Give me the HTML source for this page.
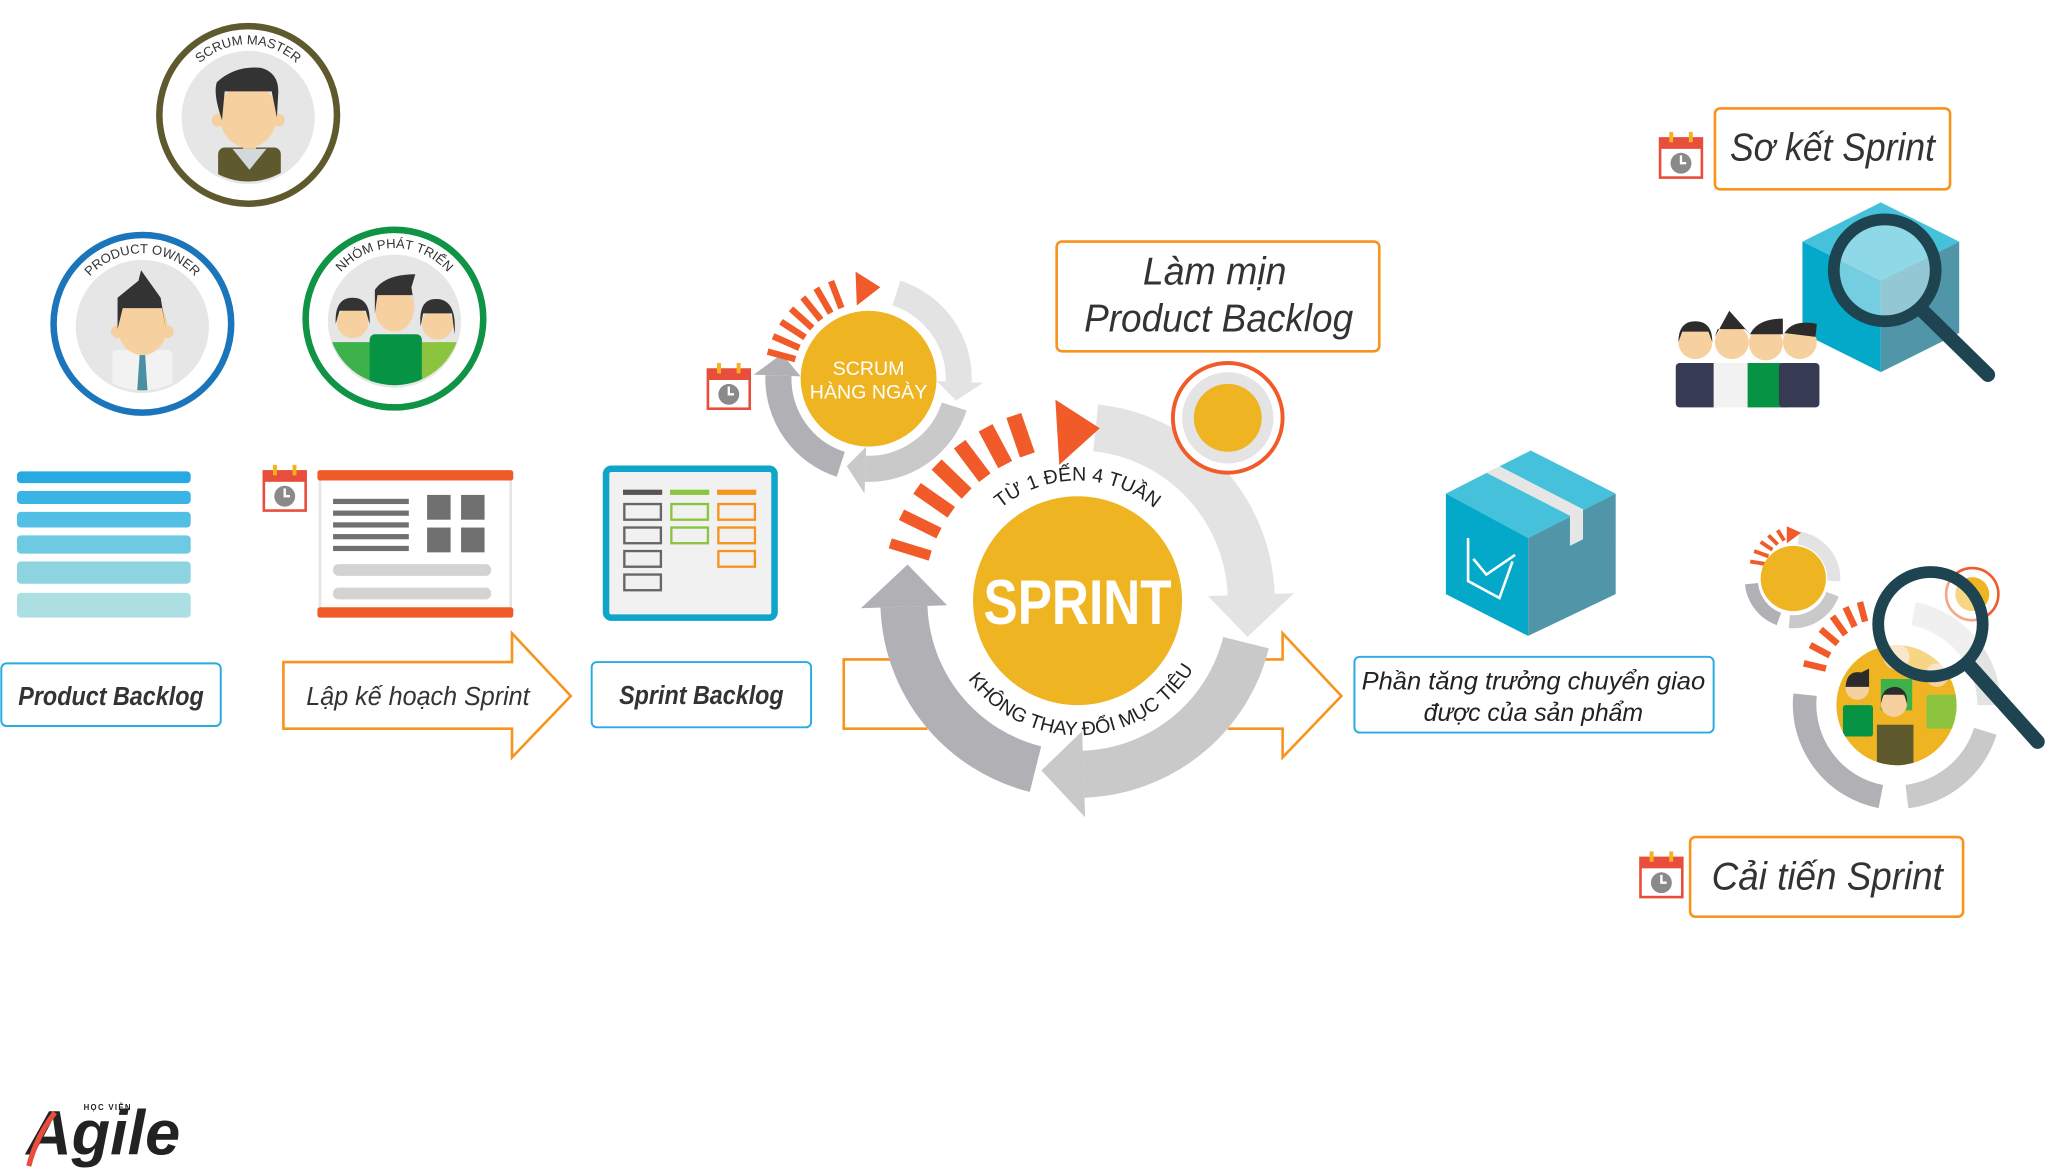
<!DOCTYPE html>
<html><head><meta charset="utf-8"><style>
html,body{margin:0;padding:0;background:#fff;}
svg{display:block;}
text{font-family:"Liberation Sans",sans-serif;}
</style></head><body>
<svg width="2048" height="1170" viewBox="0 0 1568 896" preserveAspectRatio="none" xmlns="http://www.w3.org/2000/svg">
<defs>
<clipPath id="c1"><circle cx="190" cy="88" r="51"/></clipPath>
<clipPath id="c2"><circle cx="109" cy="248" r="51"/></clipPath>
<clipPath id="c3"><circle cx="302" cy="244" r="51"/></clipPath>
<clipPath id="c4"><circle cx="1452" cy="540" r="46"/></clipPath>
<path id="tp1" d="M143.2,61 A54,54 0 0 1 236.8,61"/>
<path id="tp2" d="M62.2,221 A54,54 0 0 1 155.8,221"/>
<path id="tp3" d="M255.2,217 A54,54 0 0 1 348.8,217"/>
<path id="tpTop" d="M754.5,400.9 A92,92 0 0 1 895.5,400.9"/>
<path id="tpBot" d="M731.6,503.5 A103,103 0 0 0 921.8,495.2"/>
<g id="cal">
<rect x="1" y="5" width="32" height="30" fill="#fff" stroke="#e94e3d" stroke-width="2"/>
<rect x="1" y="5" width="32" height="8" fill="#e94e3d"/>
<rect x="8" y="0" width="3" height="8" fill="#f6b21a"/><rect x="23" y="0" width="3" height="8" fill="#f6b21a"/>
<circle cx="17" cy="24" r="8" fill="#8a8a8a"/>
<path d="M17,18 V24 H21" stroke="#fff" stroke-width="1.8" fill="none"/>
</g>
</defs>

<!-- Scrum master -->
<circle cx="190" cy="88" r="68" fill="#fff" stroke="#5e5a2e" stroke-width="5"/>
<circle cx="190" cy="90" r="51" fill="#e6e6e6"/>
<g clip-path="url(#c1)">
<rect x="167" y="113" width="48" height="40" rx="5" fill="#5e5a2e"/>
<path d="M178,114 L191,130 L204,114 Z" fill="#d5d8da"/>
<rect x="186" y="102" width="10" height="12" fill="#f6d19f"/>
<circle cx="167" cy="92" r="5" fill="#f6d19f"/><circle cx="213" cy="92" r="5" fill="#f6d19f"/>
<ellipse cx="190" cy="88" rx="22" ry="25" fill="#f6d19f"/>
<path d="M166,63 Q180,50 200,52 Q214,56 213,72 L212,90 L208,70 L172,70 L170,92 Q163,72 166,63 Z" fill="#333"/>
</g>
<text font-size="10" fill="#333"><textPath href="#tp1" startOffset="50%" text-anchor="middle">SCRUM MASTER</textPath></text>

<!-- Product owner -->
<circle cx="109" cy="248" r="68" fill="#fff" stroke="#1b75bb" stroke-width="5"/>
<circle cx="109" cy="250" r="51" fill="#e6e6e6"/>
<g clip-path="url(#c2)">
<rect x="86" y="268" width="46" height="45" rx="4" fill="#f2f2f2"/>
<path d="M107,270 L111,270 L113,300 L109,306 L105,300 Z" fill="#4a8fa2"/>
<rect x="104" y="258" width="10" height="12" fill="#f6d19f"/>
<circle cx="90" cy="254" r="5" fill="#f6d19f"/><circle cx="128" cy="254" r="5" fill="#f6d19f"/>
<ellipse cx="109" cy="250" rx="19" ry="22" fill="#f6d19f"/>
<path d="M90,252 L90,228 L106,215 L108,207 L123,228 L127,252 L124,236 L94,236 Z" fill="#333"/>
</g>
<text font-size="10" fill="#333"><textPath href="#tp2" startOffset="50%" text-anchor="middle">PRODUCT OWNER</textPath></text>

<!-- Nhóm phát triển -->
<circle cx="302" cy="244" r="68" fill="#fff" stroke="#0f9345" stroke-width="5"/>
<circle cx="302" cy="246" r="51" fill="#e6e6e6"/>
<g clip-path="url(#c3)">
<rect x="249" y="262" width="40" height="45" rx="6" fill="#3db14a"/>
<rect x="315" y="262" width="40" height="45" rx="6" fill="#8cc43f"/>
<circle cx="270" cy="247" r="12" fill="#f6d19f"/><path d="M257,248 Q256,228 270,228 Q284,228 283,248 L280,238 L260,238 Z" fill="#333"/>
<circle cx="335" cy="248" r="12" fill="#f6d19f"/><path d="M322,250 Q320,228 335,229 Q350,230 348,256 L346,240 L324,240 Z" fill="#333"/>
<rect x="283" y="256" width="40" height="50" rx="4" fill="#079344"/>
<ellipse cx="302" cy="236" rx="15" ry="18" fill="#f6d19f"/>
<path d="M287,240 L287,222 Q295,210 318,210 L315,220 L318,240 L316,226 L289,226 Z" fill="#333"/>
</g>
<text font-size="10" fill="#333"><textPath href="#tp3" startOffset="50%" text-anchor="middle">NHÓM PHÁT TRIỂN</textPath></text>

<!-- Product backlog bars -->
<rect x="13" y="361" width="133" height="9" rx="3" fill="#27a9e1"/>
<rect x="13" y="376" width="133" height="10" rx="3" fill="#3ab4e4"/>
<rect x="13" y="392" width="133" height="12" rx="3" fill="#52bfe4"/>
<rect x="13" y="410" width="133" height="14" rx="3" fill="#6ec9e2"/>
<rect x="13" y="430" width="133" height="17" rx="3" fill="#8dd3e0"/>
<rect x="13" y="454" width="133" height="19" rx="3" fill="#acdfe1"/>
<rect x="1" y="508" width="168" height="48" rx="4" fill="#fff" stroke="#29abe2" stroke-width="1.5"/>
<text x="85" y="540" font-size="20" font-weight="bold" font-style="italic" fill="#333" text-anchor="middle" textLength="142" lengthAdjust="spacingAndGlyphs">Product Backlog</text>

<!-- Sprint planning document -->
<use href="#cal" x="201" y="356"/>
<rect x="245" y="362" width="146" height="108" fill="#fff" stroke="#e5e5e5" stroke-width="2"/>
<rect x="243" y="360" width="150" height="8" rx="2" fill="#f15a29"/>
<rect x="243" y="465" width="150" height="8" rx="2" fill="#f15a29"/>
<g fill="#707070">
<rect x="255" y="382" width="58" height="4"/><rect x="255" y="391" width="58" height="4"/><rect x="255" y="400" width="58" height="4"/><rect x="255" y="409" width="58" height="4"/><rect x="255" y="418" width="58" height="4"/>
<rect x="327" y="379" width="18" height="19"/><rect x="353" y="379" width="18" height="19"/><rect x="327" y="404" width="18" height="19"/><rect x="353" y="404" width="18" height="19"/>
</g>
<rect x="255" y="432" width="121" height="9" rx="4" fill="#d3d3d3"/>
<rect x="255" y="450" width="121" height="9" rx="4" fill="#d3d3d3"/>
<path d="M217,507 L392,507 L392,485 L437,533 L392,580 L392,558 L217,558 Z" fill="#fff" stroke="#f7941d" stroke-width="2"/>
<text x="320" y="540" font-size="20" font-style="italic" fill="#333" text-anchor="middle" textLength="171" lengthAdjust="spacingAndGlyphs">Lập kế hoạch Sprint</text>

<!-- Sprint backlog board -->
<rect x="464" y="359" width="129" height="114" rx="4" fill="#f1f1f1" stroke="#0fa5c8" stroke-width="5"/>
<rect x="477" y="375" width="30" height="4" fill="#555"/><rect x="513" y="375" width="30" height="4" fill="#8cc43f"/><rect x="549" y="375" width="30" height="4" fill="#f7941d"/>
<g fill="none" stroke-width="1.8">
<g stroke="#666"><rect x="478" y="386" width="28" height="12"/><rect x="478" y="404" width="28" height="12"/><rect x="478" y="422" width="28" height="12"/><rect x="478" y="440" width="28" height="12"/></g>
<g stroke="#8cc43f"><rect x="514" y="386" width="28" height="12"/><rect x="514" y="404" width="28" height="12"/></g>
<g stroke="#f7941d"><rect x="550" y="386" width="28" height="12"/><rect x="550" y="404" width="28" height="12"/><rect x="550" y="422" width="28" height="12"/></g>
</g>
<rect x="453" y="507" width="168" height="50" rx="4" fill="#fff" stroke="#29abe2" stroke-width="1.5"/>
<text x="537" y="539" font-size="20" font-weight="bold" font-style="italic" fill="#333" text-anchor="middle" textLength="126" lengthAdjust="spacingAndGlyphs">Sprint Backlog</text>

<!-- Scrum hàng ngày -->
<use href="#cal" x="541" y="278"/>
<g fill="none" stroke-width="20">
<path d="M686.3,224.4 A69,69 0 0 1 734,292.4" stroke="#e3e3e4"/>
<path d="M730.6,311.3 A69,69 0 0 1 662.6,359" stroke="#c9c9ca"/>
<path d="M643.7,355.6 A69,69 0 0 1 596,287.6" stroke="#b1b0b4"/>
</g>
<polygon points="717,291.8 752.9,293.1 732,306.7" fill="#e3e3e4"/>
<polygon points="663.2,342 661.9,377.9 648.3,357" fill="#c9c9ca"/>
<polygon points="613,288.2 577.1,286.9 598.7,271" fill="#b1b0b4"/>
<g stroke="#f15a29" stroke-width="5">
<line x1="609" y1="275" x2="587.7" y2="269.3"/><line x1="612" y1="266.4" x2="591.9" y2="257.5"/><line x1="616.4" y1="258.4" x2="597.9" y2="246.4"/><line x1="621.9" y1="251.2" x2="605.6" y2="236.5"/><line x1="628.5" y1="244.9" x2="614.7" y2="227.8"/><line x1="636" y1="239.8" x2="625" y2="220.7"/><line x1="644.2" y1="235.9" x2="636.3" y2="215.3"/>
</g>
<polygon points="655,208 656,234 674,220" fill="#f15a29"/>
<circle cx="665" cy="290" r="52" fill="#eeb422"/>
<text x="665" y="287" font-size="15" fill="#fff" text-anchor="middle">SCRUM</text>
<text x="665" y="305" font-size="15" fill="#fff" text-anchor="middle">HÀNG NGÀY</text>

<!-- input/output arrows -->
<path d="M710,505 L646,505 L646,558 L710,558" fill="none" stroke="#f7941d" stroke-width="2"/>
<path d="M940,505 L982,505 L982,485 L1027,533 L982,580 L982,558 L940,558" fill="#fff" stroke="#f7941d" stroke-width="2"/>

<!-- Sprint ring -->
<g fill="none" stroke-width="36">
<path d="M838.9,327.7 A133,133 0 0 1 957.9,455.4" stroke="#e3e3e4"/>
<path d="M954,492.2 A133,133 0 0 1 829.6,592.9" stroke="#c9c9ca"/>
<path d="M792.8,589 A133,133 0 0 1 692.1,464.6" stroke="#b1b0b4"/>
</g>
<polygon points="924.9,456.5 990.9,454.2 955.1,487.7" fill="#e3e3e4"/>
<polygon points="828.5,559.9 830.8,625.9 797.3,590.1" fill="#c9c9ca"/>
<polygon points="725.1,463.5 659.1,465.8 694.9,432.3" fill="#b1b0b4"/>
<g stroke="#f15a29">
<line x1="712.2" y1="425.5" x2="681.6" y2="416.1" stroke-width="8"/>
<line x1="718.9" y1="408.3" x2="690.2" y2="394.2" stroke-width="9"/>
<line x1="728.3" y1="392.3" x2="702.1" y2="374" stroke-width="10"/>
<line x1="740.1" y1="378" x2="717.1" y2="355.8" stroke-width="11"/>
<line x1="754" y1="365.8" x2="734.7" y2="340.2" stroke-width="11"/>
<line x1="769.6" y1="355.8" x2="754.6" y2="327.6" stroke-width="12"/>
<line x1="786.6" y1="348.4" x2="776.2" y2="318.2" stroke-width="12"/>
</g>
<polygon points="808,306 811,356 842,328" fill="#f15a29"/>
<circle cx="825" cy="460" r="80" fill="#eeb422"/>
<text x="825" y="478" font-size="48" font-weight="bold" fill="#fff" text-anchor="middle" textLength="144" lengthAdjust="spacingAndGlyphs">SPRINT</text>
<text font-size="15" fill="#222"><textPath href="#tpTop" startOffset="50%" text-anchor="middle">TỪ 1 ĐẾN 4 TUẦN</textPath></text>
<text font-size="15" fill="#222"><textPath href="#tpBot" startOffset="50%" text-anchor="middle">KHÔNG THAY ĐỔI MỤC TIÊU</textPath></text>

<!-- small circle -->
<circle cx="940" cy="320" r="42" fill="#fff" stroke="#f15a29" stroke-width="3"/>
<circle cx="940" cy="320" r="35" fill="#e4e4e4"/>
<circle cx="940" cy="320" r="26" fill="#eeb422"/>

<!-- Làm mịn -->
<rect x="809" y="185" width="247" height="84" rx="4" fill="#fff" stroke="#f7941d" stroke-width="2"/>
<text x="930" y="218" font-size="30" font-style="italic" fill="#333" text-anchor="middle" textLength="110" lengthAdjust="spacingAndGlyphs">Làm mịn</text>
<text x="933" y="254" font-size="30" font-style="italic" fill="#333" text-anchor="middle" textLength="206" lengthAdjust="spacingAndGlyphs">Product Backlog</text>

<!-- center cube -->
<polygon points="1107,378 1172,345 1237,378 1170,412" fill="#45c1dc"/>
<polygon points="1107,378 1170,412 1170,487 1107,455" fill="#04a8c9"/>
<polygon points="1170,412 1237,378 1237,455 1170,487" fill="#5096a8"/>
<polygon points="1138,362 1148,357 1212,390 1212,413 1202,418 1202,395" fill="#e6e6e6"/>
<path d="M1124,412 L1124,445 L1148,458 L1158,430" fill="none" stroke="#fff" stroke-width="2"/>
<path d="M1128,428 L1138,440 L1160,425" fill="none" stroke="#fff" stroke-width="2"/>
<rect x="1037" y="503" width="275" height="58" rx="4" fill="#fff" stroke="#29abe2" stroke-width="1.5"/>
<text x="1174" y="528" font-size="19" font-style="italic" fill="#222" text-anchor="middle" textLength="263" lengthAdjust="spacingAndGlyphs">Phần tăng trưởng chuyển giao</text>
<text x="1174" y="552" font-size="19" font-style="italic" fill="#222" text-anchor="middle" textLength="168" lengthAdjust="spacingAndGlyphs">được của sản phẩm</text>

<!-- Sơ kết Sprint -->
<use href="#cal" x="1270" y="101"/>
<rect x="1313" y="83" width="180" height="62" rx="4" fill="#fff" stroke="#f7941d" stroke-width="2"/>
<text x="1403" y="123" font-size="30" font-style="italic" fill="#333" text-anchor="middle" textLength="157" lengthAdjust="spacingAndGlyphs">Sơ kết Sprint</text>
<polygon points="1380,185 1440,155 1500,185 1440,215" fill="#45c1dc"/>
<polygon points="1380,185 1440,215 1440,285 1380,255" fill="#04a8c9"/>
<polygon points="1440,215 1500,185 1500,255 1440,285" fill="#5096a8"/>
<circle cx="1443" cy="207" r="39" fill="#bfe7f0" fill-opacity="0.6" stroke="#1d4450" stroke-width="9"/>
<line x1="1472" y1="238" x2="1522" y2="287" stroke="#1d4450" stroke-width="11" stroke-linecap="round"/>
<!-- people group -->
<g>
<rect x="1283" y="278" width="33" height="34" rx="3" fill="#363a52"/>
<rect x="1312" y="278" width="30" height="34" fill="#f2f2f2"/>
<rect x="1338" y="278" width="30" height="34" fill="#079344"/>
<rect x="1362" y="278" width="31" height="34" rx="3" fill="#363a52"/>
<circle cx="1298" cy="262" r="13" fill="#f6d19f"/><path d="M1285,262 Q1285,246 1298,246 Q1311,246 1311,262 L1308,254 L1288,254 Z" fill="#2c2c2c"/>
<circle cx="1326" cy="262" r="13" fill="#f6d19f"/><path d="M1313,258 L1324,238 L1340,256 L1336,252 L1315,252 Z" fill="#2c2c2c"/>
<circle cx="1352" cy="263" r="13" fill="#f6d19f"/><path d="M1339,258 Q1344,244 1365,244 L1365,256 L1340,256 Z" fill="#2c2c2c"/>
<circle cx="1378" cy="262" r="13" fill="#f6d19f"/><path d="M1365,258 Q1370,244 1391,248 L1390,258 L1366,255 Z" fill="#2c2c2c"/>
</g>

<!-- bottom right cycle icons -->
<g fill="none" stroke-width="10">
<path d="M1377,412 A32,32 0 0 1 1404,445" stroke="#e3e3e4"/>
<path d="M1403,455 A32,32 0 0 1 1370,476" stroke="#c9c9ca"/>
<path d="M1362,474 A32,32 0 0 1 1341,447" stroke="#b1b0b4"/>
<path d="M1465,470 A72,72 0 0 1 1523,540" stroke="#e3e3e4" stroke-width="18"/>
<path d="M1520,560 A72,72 0 0 1 1460,610" stroke="#c9c9ca" stroke-width="18"/>
<path d="M1440,610 A72,72 0 0 1 1382,532" stroke="#b1b0b4" stroke-width="18"/>
</g>
<g stroke="#f15a29" stroke-width="3">
<line x1="1340" y1="430" x2="1352" y2="432"/><line x1="1343" y1="422" x2="1354" y2="426"/><line x1="1348" y1="415" x2="1357" y2="421"/><line x1="1354" y1="410" x2="1361" y2="417"/><line x1="1361" y1="406" x2="1366" y2="414"/>
</g>
<polygon points="1368,403 1368,416 1379,408" fill="#f15a29"/>
<circle cx="1373" cy="443" r="25" fill="#eeb422"/>
<g stroke="#f15a29" stroke-width="5">
<line x1="1381" y1="508" x2="1398" y2="512"/><line x1="1386" y1="494" x2="1401" y2="502"/><line x1="1394" y1="482" x2="1407" y2="493"/><line x1="1403" y1="472" x2="1413" y2="486"/><line x1="1413" y1="465" x2="1420" y2="480"/><line x1="1424" y1="461" x2="1428" y2="476"/>
</g>
<circle cx="1510" cy="455" r="20" fill="#fff" stroke="#f15a29" stroke-width="2"/>
<circle cx="1510" cy="455" r="13" fill="#eeb422"/>
<circle cx="1452" cy="540" r="46" fill="#eeb422"/>
<g clip-path="url(#c4)">
<rect x="1411" y="540" width="23" height="24" rx="2" fill="#079344"/>
<circle cx="1422" cy="527" r="9" fill="#f6d19f"/><path d="M1413,526 Q1414,513 1425,515 L1431,512 L1431,526 Z" fill="#2c2c2c"/>
<rect x="1440" y="520" width="24" height="24" fill="#3db14a"/>
<circle cx="1452" cy="503" r="10" fill="#f6d19f"/>
<rect x="1475" y="532" width="24" height="26" rx="2" fill="#8cc43f"/>
<circle cx="1483" cy="517" r="9" fill="#f6d19f"/>
<rect x="1437" y="555" width="28" height="40" fill="#5e5a2e"/>
<circle cx="1450" cy="539" r="10" fill="#f6d19f"/><path d="M1440,539 Q1440,526 1452,526 Q1461,528 1460,539 L1458,532 L1442,532 Z" fill="#2c2c2c"/>
</g>
<circle cx="1478" cy="478" r="40" fill="#fff" fill-opacity="0.45" stroke="#1d4450" stroke-width="9"/>
<line x1="1508" y1="510" x2="1560" y2="568" stroke="#1d4450" stroke-width="11" stroke-linecap="round"/>

<!-- Cải tiến Sprint -->
<use href="#cal" x="1255" y="652"/>
<rect x="1294" y="641" width="209" height="61" rx="4" fill="#fff" stroke="#f7941d" stroke-width="2"/>
<text x="1399" y="681" font-size="30" font-style="italic" fill="#333" text-anchor="middle" textLength="177" lengthAdjust="spacingAndGlyphs">Cải tiến Sprint</text>

<!-- Logo -->
<text x="64" y="850" font-size="6" font-weight="bold" fill="#222" letter-spacing="1">HỌC VIỆN</text>
<text x="20" y="884" font-size="48" font-weight="bold" font-style="italic" fill="#222" textLength="118" lengthAdjust="spacingAndGlyphs">Agile</text>
<path d="M22,893 Q28,870 42,852" fill="none" stroke="#e94e3d" stroke-width="4"/>
</svg>
</body></html>
